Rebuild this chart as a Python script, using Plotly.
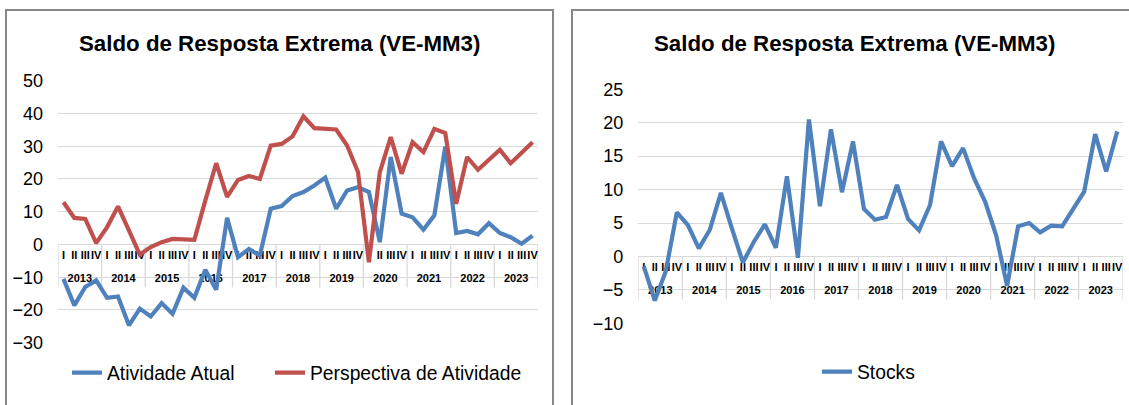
import plotly.graph_objects as go

# ---------------- data ----------------
years = [str(y) for y in range(2013, 2024)]
quarters = ["I", "II", "III", "IV"]
year_labels = [y for y in years for q in quarters]
quarter_labels = [q for y in years for q in quarters]
period_keys = [f"{y} {q}" for y, q in zip(year_labels, quarter_labels)]

atividade_atual = [-10.5, -18.6, -13.0, -11.0, -16.3, -15.9, -24.7, -19.6, -22.0, -17.9,
                   -21.2, -13.2, -16.3, -7.7, -13.8, 8.1, -3.9, -1.4, -3.4, 10.9,
                   11.7, 14.8, 16.0, 18.0, 20.4, 10.9, 16.5, 17.5, 16.0, 0.7,
                   26.7, 9.4, 8.3, 4.5, 8.9, 29.9, 3.5, 4.1, 3.1, 6.5,
                   3.5, 2.2, 0.2, 2.7]
perspectiva_atividade = [12.9, 8.1, 7.8, 0.4, 5.3, 11.6, 4.3, -3.1, -0.8, 0.7,
                         1.7, 1.5, 1.4, 13.4, 24.8, 14.5, 19.7, 20.9, 20.0, 30.2,
                         30.7, 33.0, 39.1, 35.5, 35.4, 35.1, 30.2, 22.1, -5.4, 22.1,
                         32.8, 21.6, 31.2, 28.2, 35.3, 34.0, 12.4, 26.7, 22.8, 25.9,
                         28.9, 24.8, 28.2, 31.2]
stocks = [-1.5, -6.6, -2.2, 6.6, 4.7, 1.2, 4.0, 9.5, 4.2, -0.9,
          2.2, 4.8, 1.3, 12.0, -0.2, 20.5, 7.5, 19.0, 9.6, 17.2,
          7.1, 5.5, 5.9, 10.7, 5.6, 3.9, 7.7, 17.2, 13.5, 16.2,
          11.7, 8.2, 3.2, -4.4, 4.5, 5.0, 3.6, 4.6, 4.5, 7.2,
          9.7, 18.3, 12.7, 18.7]

title_text = "Saldo de Resposta Extrema (VE-MM3)"
left_range = [-30, 50]
right_range = [-10, 25]

# ---------------- layout geometry ----------------
W, H = 1129, 405
FONT = "Liberation Sans, Arial, sans-serif"
GRID = "#D9D9D9"
BLUE = "#4F81BD"
RED = "#C0504D"
LW = 4.2
DIVIDER_LEN = 43


def px_x(p):
    return p / W


def px_y(p):
    return 1 - p / H


left_dom_x = [px_x(58), px_x(538)]
left_dom_y = [px_y(342.7), px_y(80.7)]
right_dom_x = [px_x(638.3), px_x(1122.7)]
right_dom_y = [px_y(323.3), px_y(89.3)]


def zero_pos(dom, rng):
    return dom[0] + (0 - rng[0]) / (rng[1] - rng[0]) * (dom[1] - dom[0])


fig = go.Figure()
fig.add_trace(go.Scatter(x=period_keys, y=atividade_atual,
                         name="Atividade Atual", mode="lines",
                         line=dict(color=BLUE, width=LW),
                         xaxis="x", yaxis="y", legend="legend"))
fig.add_trace(go.Scatter(x=period_keys, y=perspectiva_atividade,
                         name="Perspectiva de Atividade", mode="lines",
                         line=dict(color=RED, width=LW),
                         xaxis="x", yaxis="y", legend="legend3"))
fig.add_trace(go.Scatter(x=period_keys, y=stocks,
                         name="Stocks", mode="lines",
                         line=dict(color=BLUE, width=LW),
                         xaxis="x2", yaxis="y2", legend="legend2"))
# year-group axes (no visible marks; they carry the year labels)
fig.add_trace(go.Scatter(x=years, y=[None] * len(years), mode="lines", showlegend=False,
                         hoverinfo="skip", xaxis="x3", yaxis="y"))
fig.add_trace(go.Scatter(x=years, y=[None] * len(years), mode="lines", showlegend=False,
                         hoverinfo="skip", xaxis="x4", yaxis="y2"))

qcommon = dict(type="category", anchor="free", side="bottom", showline=True, linecolor=GRID,
               linewidth=1.3, showgrid=False, zeroline=False, ticks="", tickangle=0,
               tickmode="array", tickvals=period_keys, ticktext=quarter_labels,
               range=[-0.5, len(period_keys) - 0.5],
               tickfont=dict(family=FONT, size=11, color="black", weight="bold"),
               layer="below traces", automargin=False)
yearax = dict(type="category", anchor="free", side="bottom", showline=False, showgrid=False,
              zeroline=False, ticks="", tickangle=0,
              categoryorder="array", categoryarray=years,
              range=[-0.5, len(years) - 0.5], ticklabelstandoff=26,
              tickfont=dict(family=FONT, size=11, color="black", weight="bold"),
              layer="below traces", automargin=False)
ycommon = dict(showgrid=True, gridcolor=GRID, gridwidth=1.3, zeroline=False,
               showline=False, ticks="", dtick=5, tick0=0,
               tickfont=dict(family=FONT, size=18, color="black"),
               ticklabelstandoff=14, automargin=False)

legend_common = dict(orientation="h", xanchor="left", yanchor="middle",
                     font=dict(family=FONT, size=19.3, color="black"),
                     bgcolor="rgba(0,0,0,0)", borderwidth=0)

zl = zero_pos(left_dom_y, left_range)
zr = zero_pos(right_dom_y, right_range)

# year-group dividers hanging below the zero line (category boundaries)
boundaries = [i - 0.5 for i in range(len(years) + 1)]
dividers = []
for xr, yr in (("x3", "y"), ("x4", "y2")):
    for b in boundaries:
        dividers.append(dict(type="line", xref=xr, yref=yr, x0=b, x1=b,
                             ysizemode="pixel", yanchor=0, y0=0, y1=-DIVIDER_LEN,
                             line=dict(color=GRID, width=1.3), layer="below"))

fig.update_layout(
    width=W, height=H, template="none",
    paper_bgcolor="white", plot_bgcolor="rgba(0,0,0,0)",
    margin=dict(l=0, r=0, t=0, b=0),
    xaxis=dict(domain=left_dom_x, position=zl, **qcommon),
    xaxis3=dict(domain=left_dom_x, position=zl, overlaying="x", **yearax),
    yaxis=dict(domain=left_dom_y, range=left_range, anchor="x", **{**ycommon, "dtick": 10}),
    xaxis2=dict(domain=right_dom_x, position=zr, **qcommon),
    xaxis4=dict(domain=right_dom_x, position=zr, overlaying="x2", **yearax),
    yaxis2=dict(domain=right_dom_y, range=right_range, anchor="x2", **ycommon),
    legend=dict(x=px_x(67), y=px_y(373), **legend_common),
    legend3=dict(x=px_x(270), y=px_y(373), **legend_common),
    legend2=dict(x=px_x(817), y=px_y(372), **legend_common),
    showlegend=True,
    annotations=[
        dict(text=title_text, x=px_x(279.5), y=px_y(44), xref="paper", yref="paper",
             showarrow=False, xanchor="center", yanchor="middle",
             font=dict(family=FONT, size=22.3, color="black", weight="bold")),
        dict(text=title_text, x=px_x(854), y=px_y(44), xref="paper", yref="paper",
             showarrow=False, xanchor="center", yanchor="middle",
             font=dict(family=FONT, size=22.3, color="black", weight="bold")),
    ],
    shapes=[
        dict(type="rect", xref="paper", yref="paper", x0=px_x(6), x1=px_x(553),
             y0=-0.1, y1=px_y(10), line=dict(color="#878787", width=2), layer="below"),
        dict(type="rect", xref="paper", yref="paper", x0=px_x(572), x1=1.1,
             y0=-0.1, y1=px_y(10), line=dict(color="#878787", width=2), layer="below"),
    ] + dividers,
)

fig.write_html("out.html", config={"displayModeBar": False},
               post_script="document.body.style.margin='0';document.body.style.overflow='hidden';")
